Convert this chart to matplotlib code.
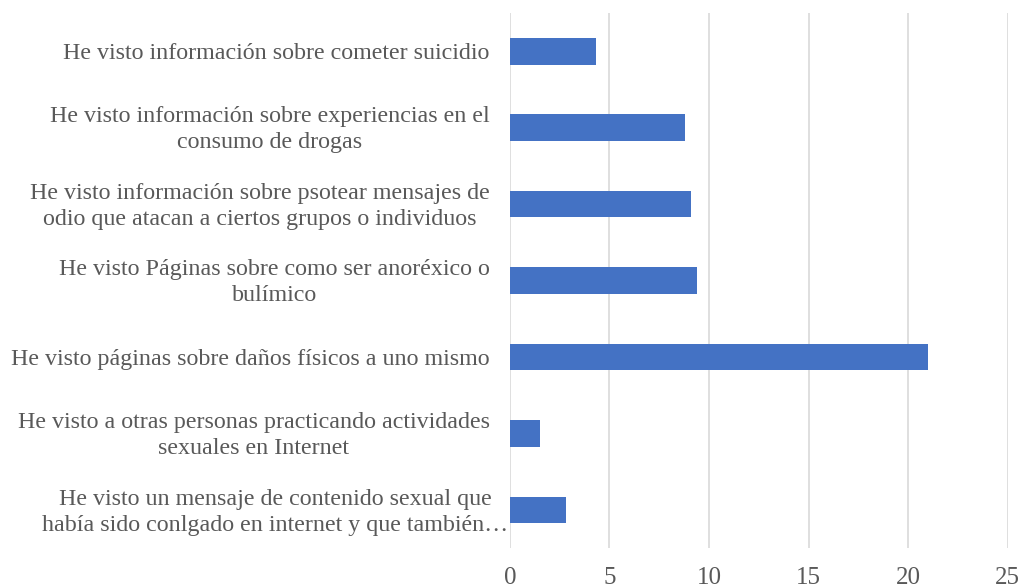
import numpy as np
import matplotlib.pyplot as plt

plt.rcParams['font.family'] = ['Liberation Serif', 'DejaVu Serif']

categorias = [
    "He visto un mensaje de contenido sexual que\nhabía sido conlgado en internet y que también…",
    "He visto a otras personas practicando actividades\nsexuales en Internet",
    "He visto páginas sobre daños físicos a uno mismo",
    "He visto Páginas sobre como ser anoréxico o\nbulímico",
    "He visto información sobre psotear mensajes de\nodio que atacan a ciertos grupos o individuos",
    "He visto información sobre experiencias en el\nconsumo de drogas",
    "He visto información sobre cometer suicidio",
]
valores = [2.8, 1.5, 21.0, 9.4, 9.1, 8.8, 4.3]
ticks = [0, 5, 10, 15, 20, 25]

gris = '#595959'

fig = plt.figure(figsize=(10.24, 5.87), dpi=100)
ax = fig.add_axes([0.498, 0.066, 0.486, 0.912])

y = np.arange(len(categorias))
ax.barh(y, valores, height=0.35, color='#4472C4', zorder=3)

ax.set_xlim(0, 25)
ax.set_ylim(-0.5, len(categorias) - 0.5)
ax.set_xticks(ticks)
ax.set_yticks(y)
ax.set_yticklabels([])
ax.tick_params(axis='y', length=0)
ax.tick_params(axis='x', length=0, pad=13.5, labelsize=18, labelcolor=gris)
ax.grid(axis='x', color='#d9d9d9', linewidth=1.2, zorder=0)
for s in ax.spines.values():
    s.set_visible(False)

# etiquetas de categoria (la ultima se desborda hasta el eje, como en el original)
for i, txt in enumerate(categorias):
    dx = -1 if i == 0 else -14.5
    ax.annotate(txt, xy=(0, y[i]), xycoords=('axes fraction', 'data'),
                xytext=(dx, -1.5), textcoords='offset points',
                ha='right', va='center', multialignment='center',
                fontsize=17.3, color=gris, linespacing=1.32)

fig.savefig('out.png', dpi=100)
